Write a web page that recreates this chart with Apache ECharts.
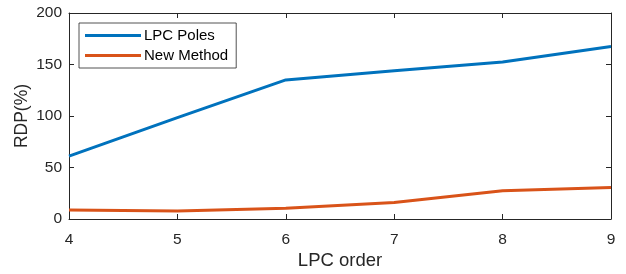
<!DOCTYPE html>
<html>
<head>
<meta charset="utf-8">
<script src="https://cdn.jsdelivr.net/npm/echarts@6/dist/echarts.min.js"></script>
<style>
  html, body { margin: 0; padding: 0; background: #fff; }
  #chart { width: 626px; height: 274px; }
</style>
</head>
<body>
<div id="chart"></div>
<script>
// values
const lpcOrder = [4, 5, 6, 7, 8, 9];
const lpcPoles = [61, 98.5, 135, 144, 152.5, 167.5];
const newMethod = [8.7, 7.8, 10.5, 16, 27.5, 30.5];

const axisColor = '#262626';
const font = 'Liberation Sans, Arial, sans-serif';

const chart = echarts.init(document.getElementById('chart'));

const pairs = (ys) => lpcOrder.map((x, i) => [x, ys[i]]);

const xBase = {
  type: 'value', min: 4, max: 9, interval: 1,
  axisLine: { show: true, onZero: false, lineStyle: { color: axisColor, width: 1 } },
  axisTick: { show: true, inside: true, length: 5, lineStyle: { color: axisColor } },
  splitLine: { show: false }
};
const yBase = {
  type: 'value', min: 0, max: 200, interval: 50,
  axisLine: { show: true, onZero: false, lineStyle: { color: axisColor, width: 1 } },
  axisTick: { show: true, inside: true, length: 5, lineStyle: { color: axisColor } },
  splitLine: { show: false }
};

chart.setOption({
  animation: false,
  textStyle: { fontFamily: font },
  grid: { left: 69, right: 15, top: 13, bottom: 55, outerBoundsMode: 'none', containLabel: false },
  xAxis: [
    Object.assign({}, xBase, {
      position: 'bottom',
      name: 'LPC order', nameLocation: 'middle', nameGap: 32, nameMoveOverlap: false,
      nameTextStyle: { fontSize: 18.5, color: axisColor, fontFamily: font },
      axisLabel: { fontSize: 15.5, color: axisColor, margin: 13, fontFamily: font }
    }),
    Object.assign({}, xBase, { position: 'top', axisLabel: { show: false } })
  ],
  yAxis: [
    Object.assign({}, yBase, {
      position: 'left',
      name: 'RDP(%)', nameLocation: 'middle', nameGap: 38, nameMoveOverlap: false,
      nameTextStyle: { fontSize: 17.5, color: axisColor, fontFamily: font },
      axisLabel: { fontSize: 15.5, color: axisColor, margin: 7, fontFamily: font }
    }),
    Object.assign({}, yBase, { position: 'right', axisLabel: { show: false } })
  ],
  legend: {
    orient: 'vertical', left: 79, top: 23,
    backgroundColor: '#fff',
    borderColor: axisColor, borderWidth: 0.8, borderRadius: 0,
    padding: [5, 8, 5, 6],
    itemGap: 5, itemWidth: 56, itemHeight: 3,
    icon: 'rect',
    textStyle: { fontSize: 15, color: '#000', fontFamily: font, padding: [0, 0, 0, -2] },
    data: ['LPC Poles', 'New Method']
  },
  series: [
    {
      name: 'LPC Poles', type: 'line', data: pairs(lpcPoles),
      showSymbol: false, symbol: 'none',
      lineStyle: { color: '#0072BD', width: 3 }, itemStyle: { color: '#0072BD' }
    },
    {
      name: 'New Method', type: 'line', data: pairs(newMethod),
      showSymbol: false, symbol: 'none',
      lineStyle: { color: '#D95319', width: 3 }, itemStyle: { color: '#D95319' }
    }
  ]
});
</script>
</body>
</html>
